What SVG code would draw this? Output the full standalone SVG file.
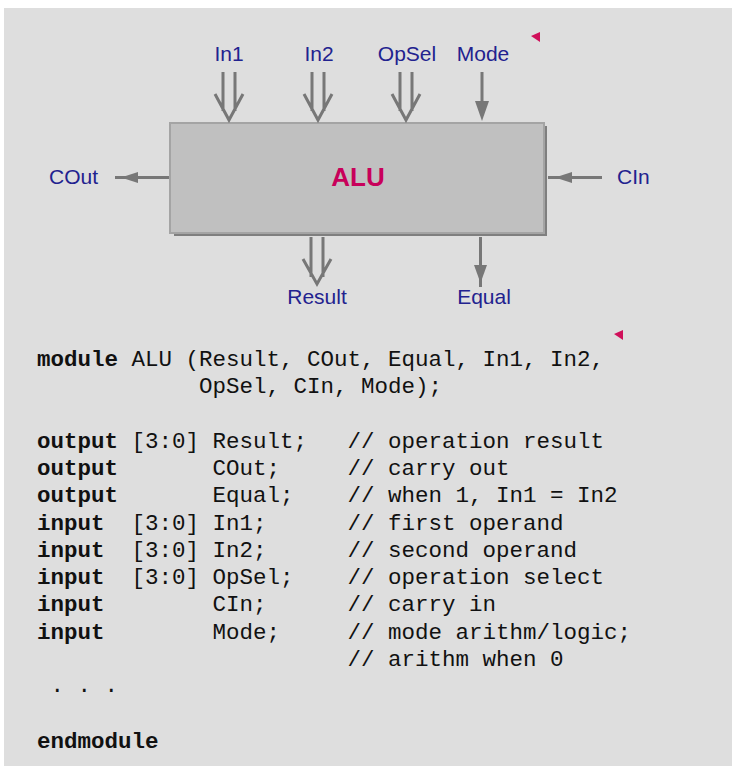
<svg xmlns="http://www.w3.org/2000/svg" width="732" height="766" viewBox="0 0 732 766">
<style>
.lbl{font-family:"Liberation Sans",Arial,sans-serif;font-size:21px;fill:#22228f}
.code{font-family:"Liberation Mono","Courier New",monospace;font-size:22.5px;fill:#111;white-space:pre}
.kw{font-weight:bold}
.wire{stroke:#777;stroke-width:3;fill:none}
.head{fill:#777;stroke:none}
.mark{fill:#d0105a}
</style>
<rect x="0" y="0" width="732" height="766" fill="#ffffff"/>
<rect x="4" y="8" width="728" height="758" fill="#dedede"/>
<g id="alu">
<rect x="174" y="126" width="373" height="110" fill="#7f7f7f"/>
<rect x="170" y="123" width="374" height="110" fill="#c0c0c0" stroke="#a4a4a4" stroke-width="2"/>
<text x="358" y="186" text-anchor="middle" font-family="Liberation Sans, Arial, sans-serif" font-size="26" font-weight="bold" fill="#c8005a">ALU</text>
</g>
<g id="port-in1"><text class="lbl" x="229" y="61" text-anchor="middle">In1</text></g>
<g id="port-in2"><text class="lbl" x="319" y="61" text-anchor="middle">In2</text></g>
<g id="port-opsel"><text class="lbl" x="407" y="61" text-anchor="middle">OpSel</text></g>
<g id="port-mode"><text class="lbl" x="483" y="61" text-anchor="middle">Mode</text></g>
<g id="port-cout"><text class="lbl" x="49" y="184">COut</text></g>
<g id="port-cin"><text class="lbl" x="617" y="184">CIn</text></g>
<g id="port-result"><text class="lbl" x="317" y="304" text-anchor="middle">Result</text></g>
<g id="port-equal"><text class="lbl" x="484" y="304" text-anchor="middle">Equal</text></g>
<g id="connectors">
<path class="wire" d="M223,72V111M235,72V111M215,94L229,120L243,94"/>
<path class="wire" d="M312,72V111M324,72V111M304,94L318,120L332,94"/>
<path class="wire" d="M400,72V111M412,72V111M392,94L406,120L420,94"/>
<path class="wire" d="M482,72V104"/>
<polygon class="head" points="475,101 489,101 482,121"/>
<path class="wire" d="M115,177.5H169"/>
<polygon class="head" points="121,177.5 138,172 138,183"/>
<path class="wire" d="M548,177.5H602"/>
<polygon class="head" points="555,177.5 572,172 572,183"/>
<path class="wire" d="M311,237V277M323,237V277M303,259L317,284L331,259"/>
<path class="wire" d="M480.5,237V287"/>
<polygon class="head" points="474,265 487,265 480.5,283"/>
</g>
<polygon class="mark" points="531,36 540,32 540,42"/>
<polygon class="mark" points="614,334 623,330 623,340"/>
<g id="code">
<text class="code" x="37" y="366"><tspan class="kw">module</tspan> ALU (Result, COut, Equal, In1, In2,</text>
<text class="code" x="37" y="393.3">            OpSel, CIn, Mode);</text>
<text class="code" x="37" y="447.8"><tspan class="kw">output</tspan> [3:0] Result;   // operation result</text>
<text class="code" x="37" y="475"><tspan class="kw">output</tspan>       COut;     // carry out</text>
<text class="code" x="37" y="502.3"><tspan class="kw">output</tspan>       Equal;    // when 1, In1 = In2</text>
<text class="code" x="37" y="529.5"><tspan class="kw">input</tspan>  [3:0] In1;      // first operand</text>
<text class="code" x="37" y="556.8"><tspan class="kw">input</tspan>  [3:0] In2;      // second operand</text>
<text class="code" x="37" y="584"><tspan class="kw">input</tspan>  [3:0] OpSel;    // operation select</text>
<text class="code" x="37" y="611.3"><tspan class="kw">input</tspan>        CIn;      // carry in</text>
<text class="code" x="37" y="638.5"><tspan class="kw">input</tspan>        Mode;     // mode arithm/logic;</text>
<text class="code" x="37" y="665.8">                       // arithm when 0</text>
<text class="code" x="37" y="692"> . . .</text>
<text class="code kw" x="37" y="747.5">endmodule</text>
</g>
</svg>
